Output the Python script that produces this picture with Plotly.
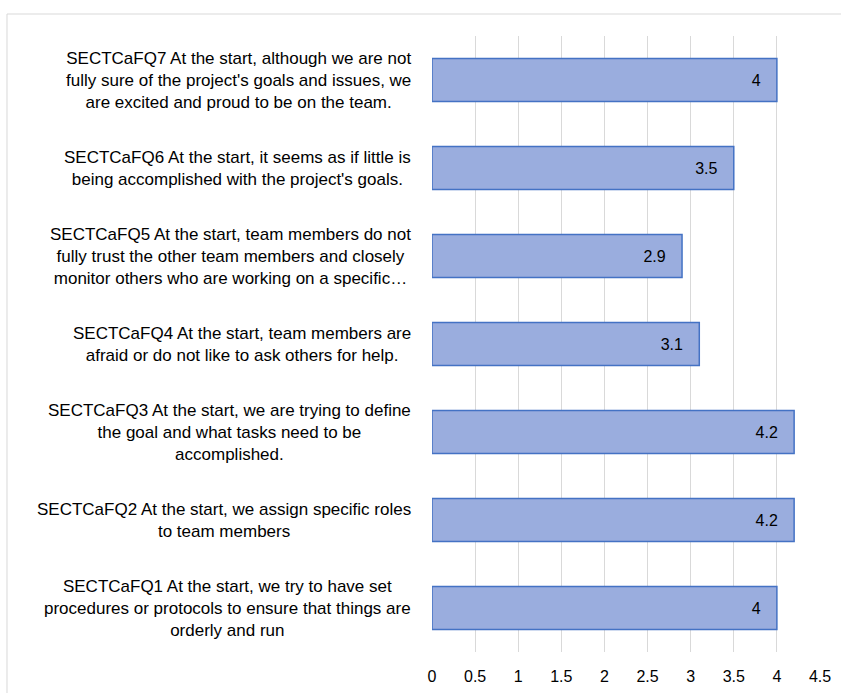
import plotly.graph_objects as go

categories = [
    "SECTCaFQ1 At the start, we try to have set<br>procedures or protocols to ensure that things are<br>orderly and run",
    "SECTCaFQ2 At the start, we assign specific roles<br>to team members",
    "SECTCaFQ3 At the start, we are trying to define<br>the goal and what tasks need to be<br>accomplished.",
    "SECTCaFQ4 At the start, team members are<br>afraid or do not like to ask others for help.",
    "SECTCaFQ5 At the start, team members do not<br>fully trust the other team members and closely<br>monitor others who are working on a specific…",
    "SECTCaFQ6 At the start, it seems as if little is<br>being accomplished with the project's goals.",
    "SECTCaFQ7 At the start, although we are not<br>fully sure of the project's goals and issues, we<br>are excited and proud to be on the team.",
]
values = [4, 4.2, 4.2, 3.1, 2.9, 3.5, 4]
x_ticks = [0, 0.5, 1, 1.5, 2, 2.5, 3, 3.5, 4, 4.5]
x_tick_labels = ["0", "0.5", "1", "1.5", "2", "2.5", "3", "3.5", "4", "4.5"]

FONT = "Liberation Sans"
ids = [f"q{i}" for i in range(len(categories))]

fig = go.Figure(go.Bar(
    y=ids, x=values, orientation="h",
    marker=dict(color="#9AADDE", line=dict(color="#4472C4", width=1.5)),
    text=[f"{v:g}\u00a0\u00a0\u00a0" for v in values],
    textposition="inside", insidetextanchor="end",
    textfont=dict(family=FONT, size=16, color="black"),
    width=0.49,
))

annotations = []
for cid, lab in zip(ids, categories):
    annotations.append(dict(
        x=0, xref="paper", y=cid, yref="y", text=lab, showarrow=False,
        xanchor="right", yanchor="middle", align="center", xshift=-19,
        font=dict(family=FONT, size=17, color="black"),
    ))

fig.update_layout(
    width=841, height=693,
    margin=dict(l=432, r=21, t=36, b=41, autoexpand=False),
    paper_bgcolor="white", plot_bgcolor="white",
    showlegend=False,
    annotations=annotations,
    font=dict(family=FONT, size=16, color="black"),
    xaxis=dict(range=[0, 4.5], tickvals=x_ticks, ticktext=x_tick_labels,
               showgrid=True, gridcolor="#d9d9d9", gridwidth=1,
               zeroline=False, showline=False, automargin=False,
               ticks="outside", ticklen=10, tickcolor="rgba(0,0,0,0)",
               tickfont=dict(family=FONT, size=16, color="black")),
    yaxis=dict(categoryorder="array", categoryarray=ids, showticklabels=False,
               showgrid=False, zeroline=False, showline=False, ticks="",
               automargin=False, range=[-0.5, len(ids) - 0.5]),
    shapes=[dict(type="rect", xref="paper", yref="paper",
                 x0=-1.0954, x1=1.3, y0=-0.3, y1=1.0357,
                 line=dict(color="#d9d9d9", width=1), layer="below")],
    uniformtext=dict(minsize=8, mode="show"),
)

fig.write_html("out.html")
